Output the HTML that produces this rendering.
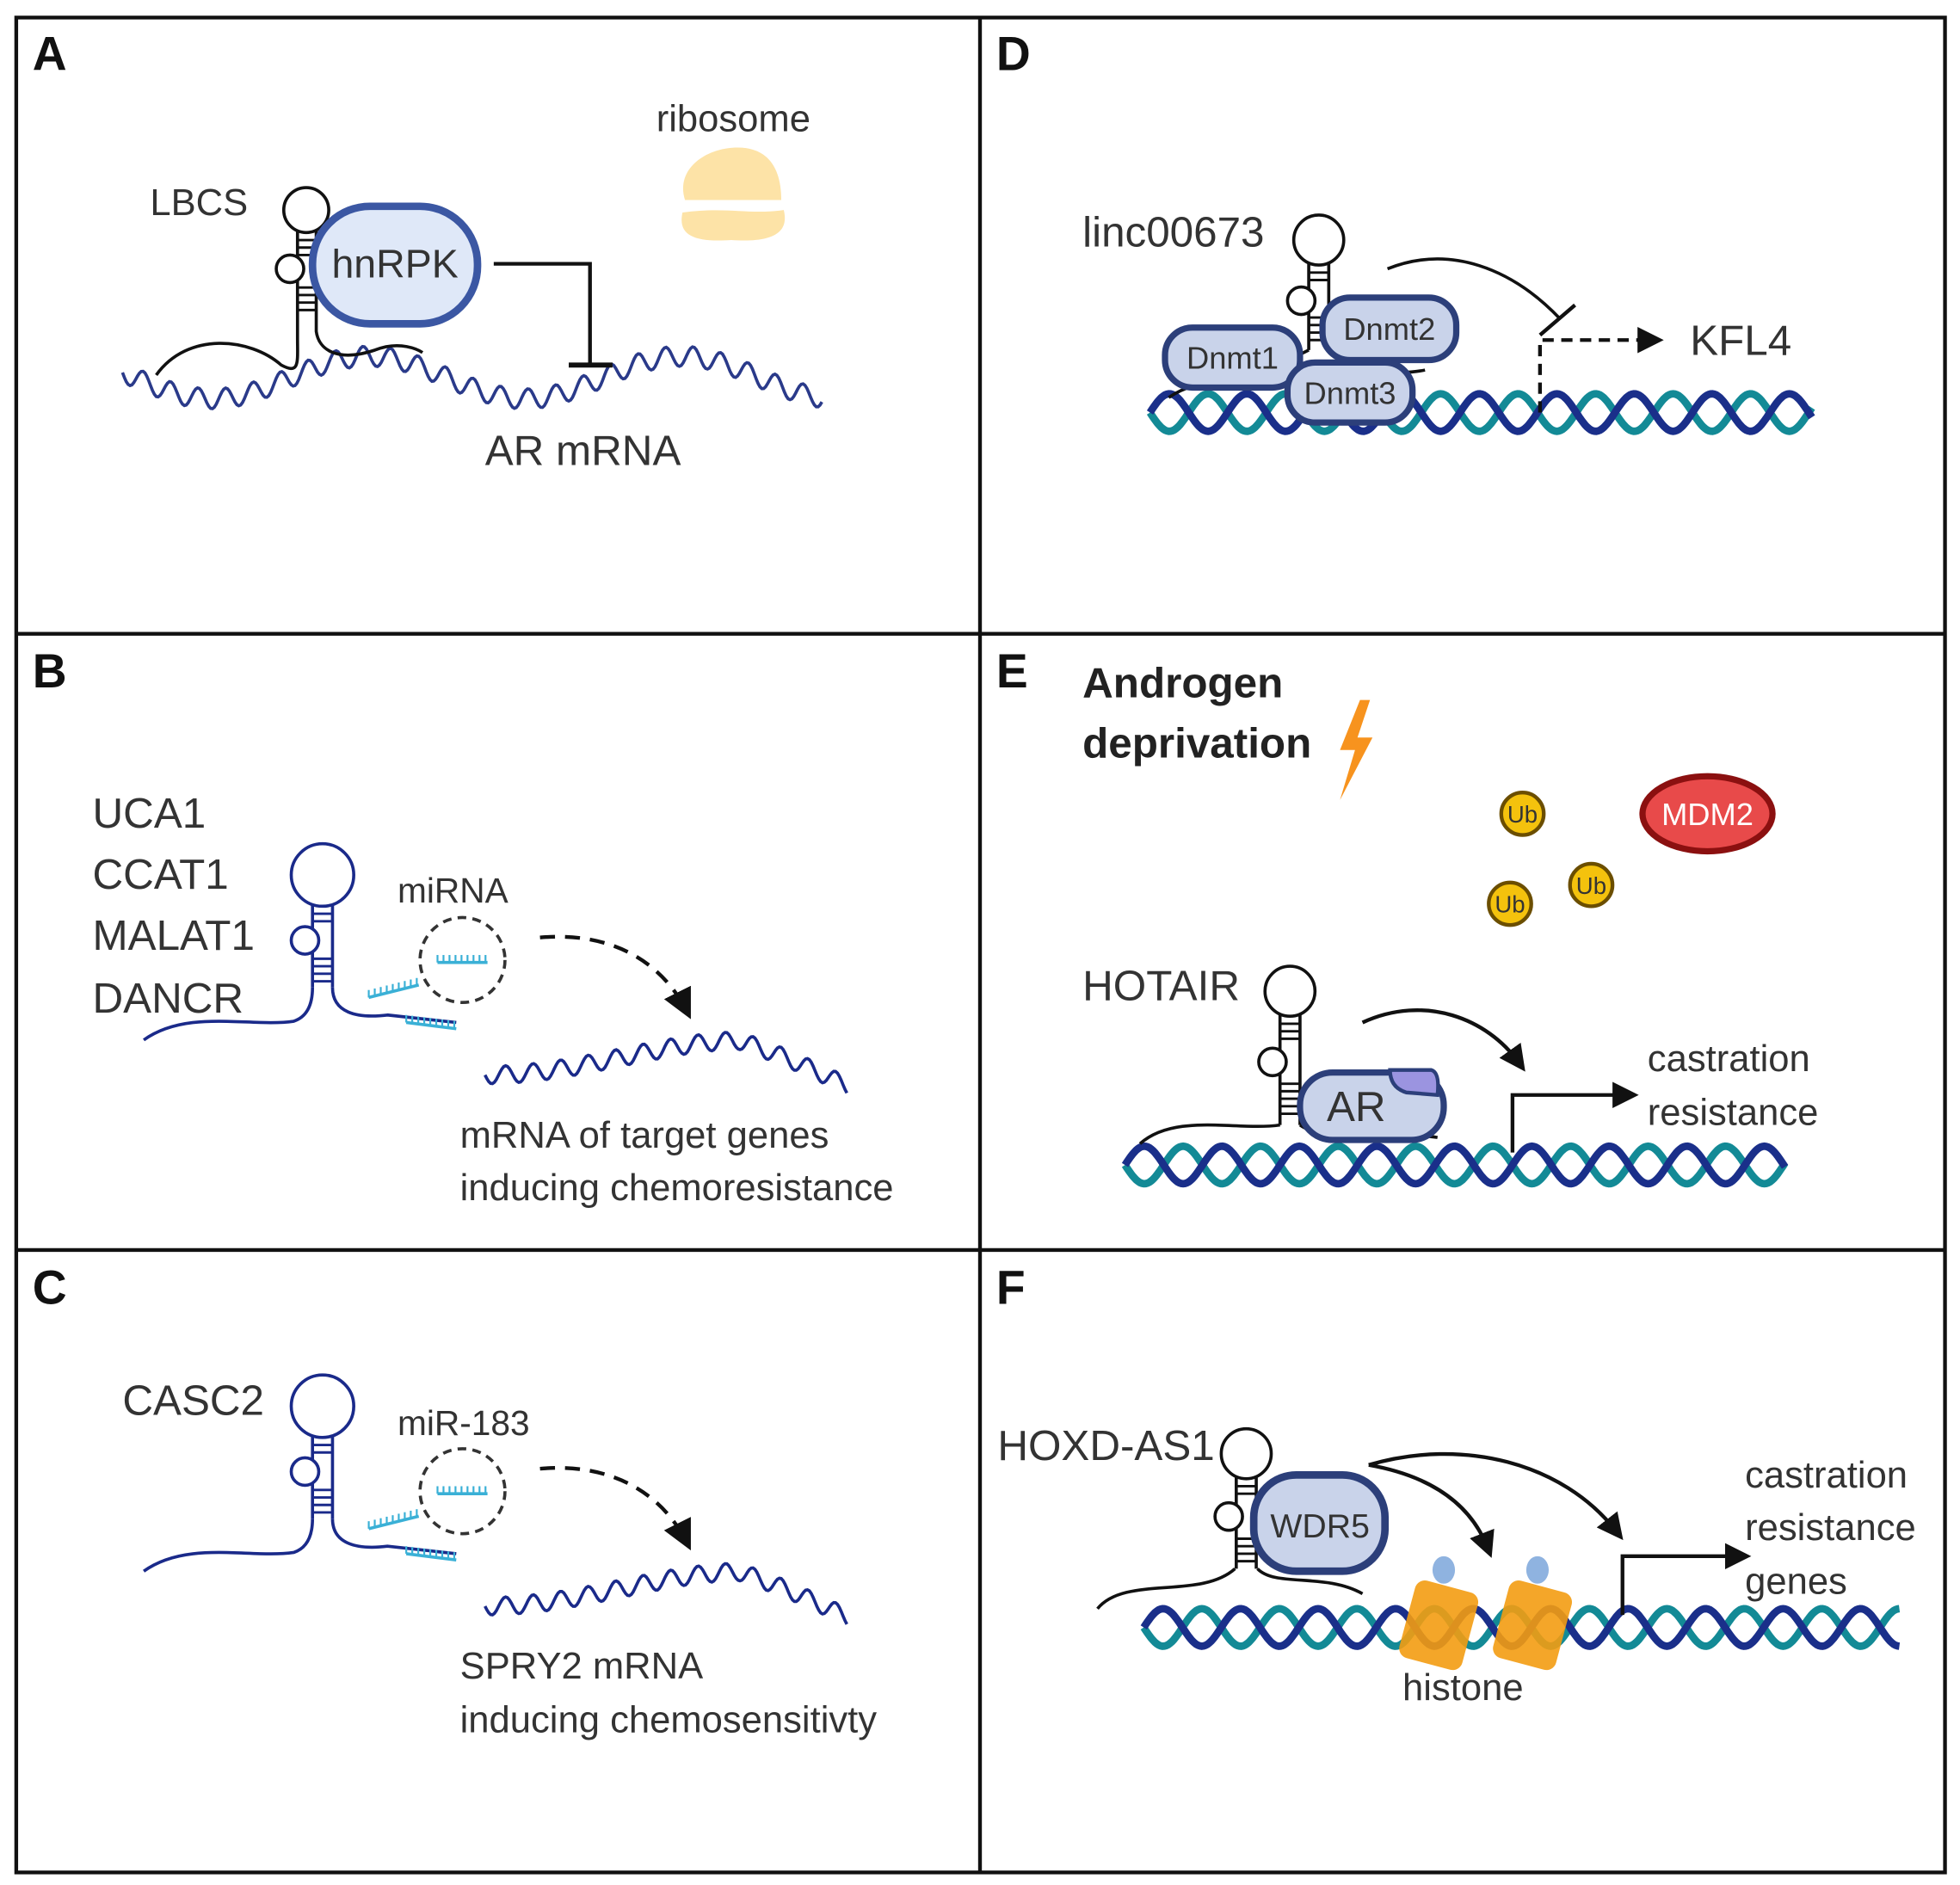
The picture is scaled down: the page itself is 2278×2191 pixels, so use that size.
<!DOCTYPE html>
<html><head><meta charset="utf-8"><style>
html,body{margin:0;padding:0;background:#fff}
svg{display:block}
text{font-family:"Liberation Sans",sans-serif;fill:#333}
.lab{font-weight:bold;font-size:38px;fill:#111}
</style></head><body>
<svg id="s" width="2278" height="2191" viewBox="0 0 1568 1508" xmlns="http://www.w3.org/2000/svg">
<defs>
<marker id="ah" markerWidth="10" markerHeight="10" refX="6" refY="5" orient="auto" markerUnits="strokeWidth"><path d="M0,1 L8,5 L0,9 Z" fill="#111"/></marker>
<marker id="ah2" markerWidth="8" markerHeight="8" refX="4" refY="4" orient="auto" markerUnits="strokeWidth"><path d="M0,0.5 L7,4 L0,7.5 Z" fill="#111"/></marker>
</defs>
<g fill="none" stroke="#111" stroke-width="3">
<rect x="13" y="14" width="1543" height="1484"/>
<line x1="784" y1="14" x2="784" y2="1498"/>
<line x1="13" y1="507" x2="1556" y2="507"/>
<line x1="13" y1="1000" x2="1556" y2="1000"/>
</g>
<text class="lab" x="26" y="56">A</text>
<text class="lab" x="26" y="550">B</text>
<text class="lab" x="26" y="1043">C</text>
<text class="lab" x="797" y="56">D</text>
<text class="lab" x="797" y="550">E</text>
<text class="lab" x="797" y="1043">F</text>

<!-- Panel A -->
<g id="gA"></g>
<text x="120" y="172" font-size="30">LBCS</text>
<path d="M125,300 C150,265 200,270 225,292 C240,300 238,290 238,270 L238,185 M253,185 L253,265 C255,280 270,290 300,280 C320,272 335,280 338,282" fill="none" stroke="#111" stroke-width="2.5"/>
<circle cx="245" cy="168" r="18" fill="#fff" stroke="#111" stroke-width="2.5"/>
<circle cx="232" cy="215" r="11" fill="#fff" stroke="#111" stroke-width="2.5"/>
<g stroke="#111" stroke-width="2"><line x1="238" y1="192" x2="253" y2="192"/><line x1="238" y1="198" x2="253" y2="198"/><line x1="238" y1="204" x2="253" y2="204"/><line x1="238" y1="230" x2="253" y2="230"/><line x1="238" y1="236" x2="253" y2="236"/><line x1="238" y1="242" x2="253" y2="242"/><line x1="238" y1="248" x2="253" y2="248"/></g>
<rect x="250" y="165" width="132" height="94" rx="46" fill="#dfe8f8" stroke="#3b57a3" stroke-width="6"/>
<text x="316" y="222" font-size="32" text-anchor="middle">hnRPK</text>
<path d="M395,211 L472,211 L472,292" fill="none" stroke="#111" stroke-width="3"/>
<line x1="455" y1="292" x2="490" y2="292" stroke="#111" stroke-width="4"/>
<text x="525" y="105" font-size="30">ribosome</text>
<path d="M548,160 C540,135 565,118 590,118 C615,118 625,135 625,160 Z" fill="#fde3a7"/>
<path d="M546,170 C580,165 600,172 627,168 C632,188 615,194 585,192 C555,194 542,188 546,170 Z" fill="#fde3a7"/>
<text x="388" y="372" font-size="34">AR mRNA</text>

<text x="74" y="662" font-size="34">UCA1</text>
<text x="74" y="711" font-size="34">CCAT1</text>
<text x="74" y="760" font-size="34">MALAT1</text>
<text x="74" y="810" font-size="34">DANCR</text>
<text x="318" y="722" font-size="28">miRNA</text>
<text x="368" y="918" font-size="30">mRNA of target genes</text>
<text x="368" y="960" font-size="30">inducing chemoresistance</text>
<text x="98" y="1132" font-size="34">CASC2</text>
<text x="318" y="1148" font-size="28">miR-183</text>
<text x="368" y="1343" font-size="30">SPRY2 mRNA</text>
<text x="368" y="1386" font-size="30">inducing chemosensitivty</text>
<g id="gBC"></g>

<g id="gD"></g>
<text x="866" y="197" font-size="34">linc00673</text>
<text x="1352" y="284" font-size="34">KFL4</text>
<text x="866" y="558" font-size="34" font-weight="bold" style="fill:#222">Androgen</text>
<text x="866" y="606" font-size="34" font-weight="bold" style="fill:#222">deprivation</text>
<path d="M1088,560 L1072,600 L1084,600 L1072,640 L1098,590 L1086,590 L1096,560 Z" fill="#f7931e"/>
<g id="gE"></g>
<text x="866" y="800" font-size="34">HOTAIR</text>
<text x="1318" y="857" font-size="30">castration</text>
<text x="1318" y="900" font-size="30">resistance</text>
<g id="gF"></g>
<text x="798" y="1168" font-size="34">HOXD-AS1</text>
<text x="1396" y="1190" font-size="30">castration</text>
<text x="1396" y="1232" font-size="30">resistance</text>
<text x="1396" y="1275" font-size="30">genes</text>
<text x="1122" y="1360" font-size="30">histone</text>
</svg>
<script>
var NS="http://www.w3.org/2000/svg";
function el(g,tag,attrs,txt){var e=document.createElementNS(NS,tag);for(var k in attrs)e.setAttribute(k,attrs[k]);if(txt)e.textContent=txt;document.getElementById(g).appendChild(e);return e;}
function wave(g,x0,x1,base,amp,per,col,w){var d="";for(var x=x0;x<=x1;x+=1.5){var y=base(x)+amp*Math.sin((x-x0)/per*2*Math.PI);d+=(d?"L":"M")+x.toFixed(1)+","+y.toFixed(1);}el(g,"path",{d:d,fill:"none",stroke:col,"stroke-width":w});}
function helix(g,x0,x1,y,amp,per){var cols=["#138a96","#1a2f8a"];for(var k=0;k<2;k++){var d="";for(var x=x0;x<=x1;x+=1.5){var yy=y+amp*Math.sin((x-x0)/per*2*Math.PI+k*Math.PI);d+=(d?"L":"M")+x.toFixed(1)+","+yy.toFixed(1);}el(g,"path",{d:d,fill:"none",stroke:cols[k],"stroke-width":6});}}
function hairpin(g,cx,top,bot,r,col){el(g,"line",{x1:cx-8,y1:top+r-3,x2:cx-8,y2:bot,stroke:col,"stroke-width":2.5});el(g,"line",{x1:cx+8,y1:top+r-3,x2:cx+8,y2:bot,stroke:col,"stroke-width":2.5});el(g,"circle",{cx:cx,cy:top,r:r,fill:"#fff",stroke:col,"stroke-width":2.5});var m=top+r+(bot-top-r)*0.42;el(g,"circle",{cx:cx-14,cy:m,r:11,fill:"#fff",stroke:col,"stroke-width":2.5});for(var y=top+r+6;y<bot-4;y+=6){if(Math.abs(y-m)<13)continue;el(g,"line",{x1:cx-8,y1:y,x2:cx+8,y2:y,stroke:col,"stroke-width":2});}}
wave("gA",98,658,function(x){return 302+17*Math.cos(2*Math.PI*(x-170)/250);},8,22,"#2a3a8a",2.5);
var navy="#1a2a8a";
[[0,700,790,832,855],[425,1125,1215,1257,1280]].forEach(function(p){
hairpin("gBC",258,p[1],p[2],25,navy);
el("gBC","path",{d:"M115,"+p[3]+" C150,"+(p[3]-25)+" 200,"+(p[3]-10)+" 235,"+(p[3]-15)+" C250,"+(p[3]-20)+" 250,"+(p[2]+5)+" 250,"+p[2]+" M266,"+p[2]+" C266,"+(p[2]+20)+" 285,"+(p[2]+25)+" 310,"+(p[2]+22)+" L365,"+(p[2]+28),fill:"none",stroke:navy,"stroke-width":2.5});
[[295,p[2]+8,335,p[2]-2],[325,p[2]+28,365,p[2]+33],[350,p[2]-20,390,p[2]-20]].forEach(function(m){el("gBC","line",{x1:m[0],y1:m[1],x2:m[2],y2:m[3],stroke:"#3ab0d6","stroke-width":2.5});for(var t=0;t<=1;t+=0.12){var x=m[0]+(m[2]-m[0])*t,y=m[1]+(m[3]-m[1])*t;el("gBC","line",{x1:x,y1:y,x2:x,y2:y-6,stroke:"#3ab0d6","stroke-width":1.5});}});
el("gBC","circle",{cx:370,cy:p[1]+68,r:34,fill:"none",stroke:"#333","stroke-width":2.5,"stroke-dasharray":"7,5"});
el("gBC","path",{d:"M432,"+(p[1]+50)+" C490,"+(p[1]+45)+" 530,"+(p[1]+70)+" 550,"+(p[1]+110),fill:"none",stroke:"#111","stroke-width":3,"stroke-dasharray":"12,8","marker-end":"url(#ah)"});
wave("gBC",388,678,function(x){var t=(x-388)/290;return p[4]+5-30*Math.sin(t*Math.PI*0.9)*(t<0.7?t/0.7:1)+(t>0.7?(t-0.7)*60:0);},7,22,navy,2.5);
});
helix("gD",920,1450,330,15,62);
hairpin("gD",1055,192,280,20,"#111");
el("gD","path",{d:"M935,318 C960,300 1000,305 1047,280 M1063,280 C1080,300 1120,300 1140,296",fill:"none",stroke:"#111","stroke-width":2.5});
[[932,262,108,48,"Dnmt1"],[1058,238,107,50,"Dnmt2"],[1030,290,100,48,"Dnmt3"]].forEach(function(b){el("gD","rect",{x:b[0],y:b[1],width:b[2],height:b[3],rx:22,fill:"#c9d3ea",stroke:"#2c3f7a","stroke-width":5});el("gD","text",{x:b[0]+b[2]/2,y:b[1]+b[3]/2+9,"font-size":25,"text-anchor":"middle"},b[4]);});
el("gD","path",{d:"M1110,215 C1160,195 1210,215 1248,255",fill:"none",stroke:"#111","stroke-width":2.5});
el("gD","line",{x1:1232,y1:268,x2:1260,y2:244,stroke:"#111","stroke-width":3});
el("gD","path",{d:"M1232,330 L1232,272 L1322,272",fill:"none",stroke:"#111","stroke-width":3,"stroke-dasharray":"9,6","marker-end":"url(#ah2)"});
[[1218,651],[1208,723],[1273,708]].forEach(function(c){el("gE","circle",{cx:c[0],cy:c[1],r:17,fill:"#f4c20d",stroke:"#6b4e00","stroke-width":3});el("gE","text",{x:c[0],y:c[1]+7,"font-size":19,"text-anchor":"middle"},"Ub");});
el("gE","ellipse",{cx:1366,cy:651,rx:52,ry:30,fill:"#e84a4a",stroke:"#8b1010","stroke-width":5});
el("gE","text",{x:1366,y:660,"font-size":25,"text-anchor":"middle",style:"fill:#fff"},"MDM2");
helix("gE",900,1428,932,15,62);
hairpin("gE",1032,793,900,20,"#111");
el("gE","path",{d:"M912,915 C940,890 990,905 1024,900 M1040,900 C1060,915 1120,905 1150,910",fill:"none",stroke:"#111","stroke-width":2.5});
el("gE","rect",{x:1040,y:858,width:115,height:54,rx:26,fill:"#c9d3ea",stroke:"#2c3f7a","stroke-width":5});
el("gE","path",{d:"M1112,856 L1145,856 Q1152,858 1150,876 L1125,874 Q1112,870 1112,856 Z",fill:"#9b94e0",stroke:"#2c3f7a","stroke-width":3});
el("gE","text",{x:1085,y:897,"font-size":34,"text-anchor":"middle"},"AR");
el("gE","path",{d:"M1090,818 C1140,795 1190,815 1215,850",fill:"none",stroke:"#111","stroke-width":3,"marker-end":"url(#ah2)"});
el("gE","path",{d:"M1210,922 L1210,876 L1302,876",fill:"none",stroke:"#111","stroke-width":3,"marker-end":"url(#ah2)"});
helix("gF",915,1520,1302,15,62);
hairpin("gF",997,1163,1255,20,"#111");
el("gF","path",{d:"M878,1287 C900,1260 960,1280 988,1255 M1006,1255 C1020,1270 1060,1258 1090,1275",fill:"none",stroke:"#111","stroke-width":2.5});
el("gF","rect",{x:1003,y:1180,width:105,height:77,rx:34,fill:"#c9d3ea",stroke:"#2c3f7a","stroke-width":6});
el("gF","text",{x:1056,y:1230,"font-size":27,"text-anchor":"middle"},"WDR5");
[[1150,1300],[1225,1300]].forEach(function(h){el("gF","rect",{x:h[0]-25,y:h[1]-32,width:52,height:64,rx:8,fill:"#f39c12","fill-opacity":0.9,transform:"rotate(15 "+h[0]+" "+h[1]+")"});el("gF","ellipse",{cx:h[0]+5,cy:h[1]-44,rx:9,ry:11,fill:"#8fb3e0"});});
el("gF","path",{d:"M1095,1172 C1140,1180 1175,1200 1190,1238",fill:"none",stroke:"#111","stroke-width":3,"marker-end":"url(#ah2)"});
el("gF","path",{d:"M1095,1172 C1170,1150 1250,1170 1293,1225",fill:"none",stroke:"#111","stroke-width":3,"marker-end":"url(#ah2)"});
el("gF","path",{d:"M1298,1292 L1298,1245 L1392,1245",fill:"none",stroke:"#111","stroke-width":3,"marker-end":"url(#ah2)"});
</script>
</body></html>
